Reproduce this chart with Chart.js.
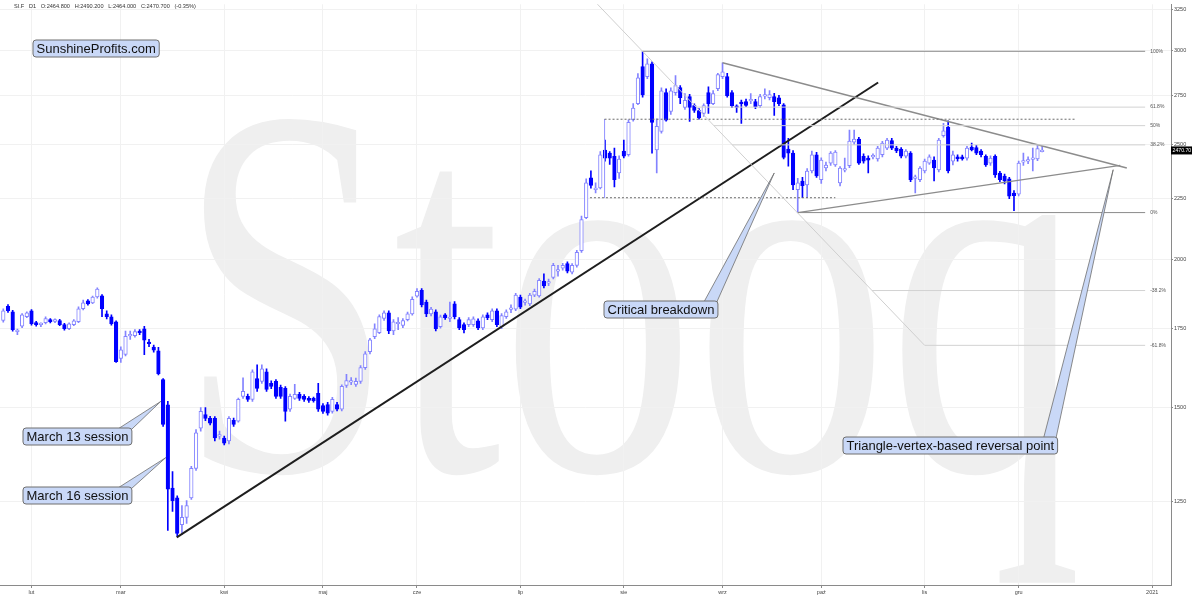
<!DOCTYPE html>
<html>
<head>
<meta charset="utf-8">
<script src="https://cdn.jsdelivr.net/npm/chart.js@4.4.0/dist/chart.umd.min.js"></script>
<style>
html, body { margin: 0; padding: 0; background: #fff; }
#wrap { width: 1200px; height: 600px; }
</style>
</head>
<body>
<div id="wrap"><canvas id="grafic" width="1200" height="600"></canvas></div>
<script>
// SI.F daily candles, 24 Jan 2020 .. 8 Dec 2020 (one entry per session)
const opens = [1776,1826,1806,1738,1757,1789,1810,1769,1762,1769,1779,1773,1776,1762,1748,1762,1772,1817,1845,1838,
  1859,1863,1799,1789,1772,1650,1663,1724,1725,1738,1748,1700,1687,1675,1584,1508,1283,1259,1195,1212,
  1259,1333,1441,1480,1469,1469,1419,1414,1406,1463,1461,1533,1533,1524,1587,1578,1608,1572,1578,1560,
  1557,1495,1527,1539,1533,1527,1527,1542,1506,1509,1489,1509,1495,1566,1576,1569,1578,1621,1672,1721,
  1735,1783,1803,1741,1765,1759,1779,1799,1862,1883,1841,1799,1806,1755,1796,1783,1835,1779,1762,1762,
  1762,1775,1751,1796,1779,1810,1755,1789,1815,1816,1859,1840,1834,1866,1863,1917,1910,1931,1955,1966,
  1984,1951,1977,2034,2169,2343,2290,2297,2473,2458,2443,2365,2468,2450,2622,2706,2907,2851,2923,2473,
  2564,2764,2665,2764,2791,2686,2743,2695,2670,2655,2764,2706,2785,2851,2851,2764,2690,2712,2716,2720,
  2716,2695,2745,2737,2743,2737,2700,2477,2458,2290,2328,2311,2374,2450,2334,2388,2411,2402,2320,2378,
  2399,2511,2526,2443,2434,2440,2430,2450,2482,2518,2482,2477,2443,2458,2340,2334,2374,2411,2425,2379,
  2542,2585,2420,2440,2440,2434,2487,2485,2468,2443,2411,2443,2365,2351,2338,2275,2270,2415,2420,2428,
  2430,2464.8];
const highs = [1817,1832,1812,1747,1800,1806,1814,1773,1768,1789,1783,1782,1780,1766,1768,1779,1824,1848,1850,1862,
  1892,1868,1810,1796,1775,1688,1740,1740,1745,1745,1756,1712,1693,1686,1587,1518,1325,1264,1240,1252,
  1338,1437,1500,1500,1475,1474,1433,1419,1474,1470,1528,1589,1540,1614,1630,1630,1617,1580,1584,1567,
  1562,1540,1569,1545,1538,1532,1531,1572,1512,1515,1530,1515,1568,1600,1590,1588,1627,1672,1716,1765,
  1796,1810,1810,1779,1786,1783,1805,1860,1890,1890,1848,1822,1813,1795,1800,1841,1843,1786,1768,1786,
  1789,1782,1796,1803,1817,1817,1800,1813,1831,1872,1866,1852,1872,1888,1927,1945,1925,1985,1977,1985,
  1990,1984,2035,2175,2338,2375,2320,2465,2521,2465,2482,2445,2521,2622,2706,2868,2994,2951,2935,2627,
  2790,2785,2790,2857,2802,2759,2755,2705,2680,2705,2796,2775,2870,2929,2870,2775,2700,2725,2730,2759,
  2728,2755,2785,2775,2760,2750,2706,2530,2470,2340,2345,2385,2468,2462,2435,2415,2465,2470,2395,2434,
  2570,2570,2535,2455,2445,2455,2490,2515,2530,2530,2490,2485,2475,2465,2355,2395,2430,2450,2440,2530,
  2604,2617,2468,2450,2448,2490,2506,2495,2475,2450,2445,2450,2372,2360,2345,2285,2420,2458,2440,2482,
  2496,2490.2];
const lows = [1770,1804,1740,1728,1752,1786,1760,1757,1755,1764,1768,1769,1758,1743,1745,1758,1769,1813,1830,1835,
  1855,1789,1782,1760,1637,1637,1658,1712,1720,1728,1662,1688,1670,1598,1446,1182,1226,1168,1172,1198,
  1255,1328,1433,1462,1450,1406,1411,1395,1398,1446,1458,1527,1518,1518,1548,1572,1548,1556,1527,1527,
  1461,1489,1524,1521,1518,1515,1516,1489,1483,1478,1484,1490,1490,1560,1568,1563,1572,1615,1665,1715,
  1731,1776,1731,1728,1745,1752,1775,1795,1858,1824,1789,1792,1741,1750,1780,1772,1782,1745,1734,1755,
  1756,1745,1745,1779,1772,1755,1748,1783,1803,1810,1817,1830,1828,1860,1858,1892,1900,1925,1936,1958,
  1948,1944,1970,2027,2164,2296,2275,2293,2420,2405,2302,2340,2435,2443,2615,2700,2740,2840,2458,2365,
  2555,2615,2650,2750,2706,2675,2614,2660,2625,2640,2655,2700,2775,2840,2740,2685,2660,2604,2690,2705,
  2680,2685,2730,2725,2645,2695,2430,2397,2290,2190,2254,2254,2365,2345,2318,2375,2400,2395,2306,2370,
  2390,2500,2405,2410,2365,2430,2420,2440,2475,2475,2460,2435,2435,2325,2275,2325,2365,2405,2329,2370,
  2535,2365,2402,2420,2425,2425,2468,2450,2440,2395,2400,2345,2325,2315,2250,2198,2262,2400,2408,2374,
  2422,2464.0];
const closes = [1810,1810,1745,1740,1796,1803,1765,1762,1763,1783,1772,1779,1762,1748,1765,1775,1817,1838,1834,1859,
  1888,1817,1789,1765,1640,1678,1722,1726,1738,1735,1710,1698,1677,1602,1452,1280,1252,1175,1212,1240,
  1333,1428,1489,1469,1455,1414,1421,1400,1469,1452,1524,1548,1524,1608,1557,1617,1554,1563,1533,1533,
  1489,1533,1539,1527,1524,1521,1520,1495,1489,1484,1524,1495,1563,1581,1578,1578,1621,1665,1711,1748,
  1790,1803,1741,1772,1767,1776,1799,1851,1880,1831,1799,1816,1748,1789,1786,1785,1789,1751,1745,1779,
  1782,1751,1789,1786,1810,1762,1793,1806,1817,1866,1823,1842,1866,1880,1920,1899,1913,1977,1957,1977,
  1955,1977,2027,2160,2320,2308,2295,2450,2434,2434,2334,2430,2443,2609,2682,2844,2752,2923,2609,2589,
  2774,2620,2774,2802,2737,2723,2686,2670,2632,2696,2706,2759,2862,2878,2748,2695,2686,2706,2696,2724,
  2690,2743,2750,2754,2716,2706,2438,2458,2311,2320,2307,2374,2450,2351,2425,2402,2458,2463,2388,2380,
  2516,2526,2411,2420,2425,2445,2482,2506,2521,2482,2468,2443,2468,2334,2345,2388,2420,2440,2388,2521,
  2566,2374,2450,2432,2430,2482,2473,2458,2450,2402,2434,2356,2334,2329,2261,2263,2411,2422,2426,2434,
  2479.4,2470.7];

const monthLabels = ['lut', 'mar', 'kwi', 'maj', 'cze', 'lip', 'sie', 'wrz', 'paź', 'lis', 'gru', '2021'];
const monthIndex = [6, 25, 47, 68, 88, 110, 132, 153, 174, 196, 216, 244.4];
const priceTicks = [1250, 1500, 1750, 2000, 2250, 2500, 2750, 3000, 3250];

// fibonacci tool: diagonal from the August top to the -61.8% level
const fibLevels = [1, 0.618, 0.5, 0.382, 0, -0.382, -0.618];
const fibLabels = ['100%', '61.8%', '50%', '38.2%', '0%', '-38.2%', '-61.8%'];
const fibTop = 2995;
const fibBottom = 2190;
const fibStartIdx = 136;
const fibEndIdx = 196;
const fibLineEnd = 242.9;

// drawn lines: [index, price] pairs
const supportLine = [[36.9, 1166], [186.1, 2819]];
const triangleTop = [[153, 2929], [239, 2388]];
const triangleBottom = [[169, 2190], [237.6, 2400]];
const dashHigh = [[127.9, 2625], [228, 2625]];
const dashLow = [[124.8, 2254], [177, 2254]];
const rangeMark = [[127.9, 2625], [127.9, 2254]];

const callouts = [
    {text: 'March 13 session', box: [23, 428], tip: [33.5, 1518]},
    {text: 'March 16 session', box: [23, 487], tip: [34.55, 1361]},
    {text: 'Critical breakdown', box: [604, 301], tip: [164, 2365]},
    {text: 'Triangle-vertex-based reversal point', box: [843, 437], tip: [236.1, 2380]}
];

const UP = '#8383ff';
const DOWN = '#0000ff';

function pts(arr) {
    return arr.map(p => ({x: p[0], y: p[1]}));
}

function fibPrice(lvl) {
    return fibBottom + lvl * (fibTop - fibBottom);
}

function fibStartX(price) {
    const a = Math.log(fibTop), b = Math.log(fibPrice(-0.618));
    return fibStartIdx + (fibEndIdx - fibStartIdx) * (a - Math.log(price)) / (a - b);
}

function lineSet(data, color, width, dash) {
    return {
        type: 'line', data: data, borderColor: color, borderWidth: width,
        borderDash: dash || [], pointRadius: 0, fill: false, tension: 0, order: 1
    };
}

const isUp = opens.map((o, i) => closes[i] >= o);

const datasets = [
    {
        type: 'bar', label: 'wicks', order: 3, grouped: false, barThickness: 1,
        data: opens.map((o, i) => ({x: i, y: [lows[i], highs[i]]})),
        backgroundColor: isUp.map(u => u ? UP : DOWN), borderWidth: 0
    },
    {
        type: 'bar', label: 'bodies', order: 2, grouped: false, barThickness: 3.6, minBarLength: 1.5,
        data: opens.map((o, i) => ({x: i, y: [o, closes[i]]})),
        backgroundColor: isUp.map(u => u ? '#ffffff' : DOWN),
        borderColor: isUp.map(u => u ? UP : DOWN),
        borderWidth: 1, borderSkipped: false
    }
];

// fib diagonal, extended up to the top edge
const diagTopPrice = Math.exp(Math.log(fibTop) + (122 - fibStartIdx) / (fibEndIdx - fibStartIdx) * (Math.log(fibPrice(-0.618)) - Math.log(fibTop)));
datasets.push(lineSet([{x: 122, y: diagTopPrice}, {x: fibEndIdx, y: fibPrice(-0.618)}], '#cfcfcf', 1));
fibLevels.forEach(lvl => {
    const p = fibPrice(lvl);
    const strong = (lvl === 1 || lvl === 0);
    datasets.push(lineSet([{x: fibStartX(p), y: p}, {x: fibLineEnd, y: p}], strong ? '#8a8a8a' : '#d2d2d2', 1));
});
datasets.push(lineSet(pts(dashHigh), '#6a6a6a', 1, [2, 2]));
datasets.push(lineSet(pts(dashLow), '#6a6a6a', 1, [2, 2]));
datasets.push(lineSet(pts(rangeMark), '#9a9aff', 1));
datasets.push(lineSet(pts(triangleTop), '#8c8c8c', 1.4));
datasets.push(lineSet(pts(triangleBottom), '#8c8c8c', 1.4));
datasets.push(lineSet(pts(supportLine), '#1e1e1e', 2));

const backdrop = {
    id: 'backdrop',
    beforeDraw(chart) {
        const ctx = chart.ctx;
        ctx.save();
        ctx.fillStyle = '#fff';
        ctx.fillRect(0, 0, chart.width, chart.height);
        ctx.fillStyle = '#efefef';
        ctx.font = '530px "Liberation Serif"';
        ctx.textBaseline = 'alphabetic';
        const w = ctx.measureText('Stooq').width;
        ctx.translate(178, 470);
        ctx.scale(904 / w, 1);
        ctx.fillText('Stooq', 0, 0);
        ctx.restore();
    }
};

function roundBox(ctx, x, y, w, h, r) {
    ctx.beginPath();
    ctx.moveTo(x + r, y);
    ctx.arcTo(x + w, y, x + w, y + h, r);
    ctx.arcTo(x + w, y + h, x, y + h, r);
    ctx.arcTo(x, y + h, x, y, r);
    ctx.arcTo(x, y, x + w, y, r);
    ctx.closePath();
}

function drawLabel(ctx, text, x, y) {
    ctx.font = '13px "Liberation Sans"';
    const w = ctx.measureText(text).width + 7;
    roundBox(ctx, x, y, w, 17, 3);
    ctx.fillStyle = '#c9d8f7';
    ctx.fill();
    ctx.strokeStyle = '#6f6f6f';
    ctx.lineWidth = 1;
    ctx.stroke();
    ctx.fillStyle = '#111';
    ctx.textBaseline = 'middle';
    ctx.fillText(text, x + 3.5, y + 9);
    return w;
}

const overlay = {
    id: 'overlay',
    afterDraw(chart) {
        const ctx = chart.ctx;
        const xs = chart.scales.x, ys = chart.scales.y;
        const n = opens.length - 1;
        ctx.save();

        // header
        const chg = (closes[n] / closes[n - 1] - 1) * 100;
        ctx.font = '5.6px "Liberation Sans"';
        ctx.fillStyle = '#333';
        ctx.textBaseline = 'middle';
        ctx.fillText('SI.F   D1   O:' + opens[n].toFixed(3) + '   H:' + highs[n].toFixed(3) + '   L:' + lows[n].toFixed(3) +
            '   C:' + closes[n].toFixed(3) + '   (' + chg.toFixed(2) + '%)', 14, 6);

        // fib labels
        ctx.font = '5px "Liberation Sans"';
        ctx.fillStyle = '#555';
        fibLevels.forEach((lvl, k) => {
            ctx.fillText(fibLabels[k], xs.getPixelForValue(fibLineEnd) + 5, ys.getPixelForValue(fibPrice(lvl)));
        });

        // last price tag
        const yc = ys.getPixelForValue(closes[n]);
        ctx.fillStyle = '#000';
        ctx.fillRect(chart.chartArea.right, yc - 4, 21, 8);
        ctx.fillStyle = '#fff';
        ctx.font = '5.2px "Liberation Sans"';
        ctx.fillText(closes[n].toFixed(2), chart.chartArea.right + 1.5, yc);

        // callouts
        callouts.forEach(c => {
            ctx.font = '13px "Liberation Sans"';
            const w = ctx.measureText(c.text).width + 7;
            const bx = c.box[0], by = c.box[1];
            const tx = xs.getPixelForValue(c.tip[0]), ty = ys.getPixelForValue(c.tip[1]);
            ctx.beginPath();
            ctx.moveTo(bx + w - 14, by + 1);
            ctx.lineTo(tx, ty);
            ctx.lineTo(bx + w - 2, by + 3);
            ctx.closePath();
            ctx.fillStyle = '#c9d8f7';
            ctx.fill();
            ctx.strokeStyle = '#6f6f6f';
            ctx.lineWidth = 0.8;
            ctx.stroke();
            drawLabel(ctx, c.text, bx, by);
        });
        drawLabel(ctx, 'SunshineProfits.com', 33, 40);
        ctx.restore();
    }
};

const ctx = document.getElementById('grafic');
const grafica = new Chart(ctx, {
    type: 'bar',
    data: {datasets: datasets},
    plugins: [backdrop, overlay],
    options: {
        responsive: false,
        animation: false,
        layout: {padding: 0},
        plugins: {legend: {display: false}, tooltip: {enabled: false}},
        scales: {
            x: {
                type: 'linear', min: -0.7, max: 248.4, offset: false,
                grid: {color: '#f1f1f1', offset: false, tickLength: 3, tickColor: '#8a8a8a'},
                border: {color: '#8a8a8a'},
                afterBuildTicks: s => { s.ticks = monthIndex.map(v => ({value: v})); },
                afterFit: s => { s.height = 15; },
                ticks: {
                    autoSkip: false, maxRotation: 0, padding: 1,
                    font: {size: 5.5, family: 'Liberation Sans'}, color: '#444',
                    callback: (v, i) => monthLabels[i]
                }
            },
            y: {
                type: 'logarithmic', position: 'right', min: 1063, max: 3281,
                grid: {color: '#f1f1f1', tickLength: 2, tickColor: '#8a8a8a'},
                border: {color: '#8a8a8a'},
                afterBuildTicks: s => { s.ticks = priceTicks.map(v => ({value: v})); },
                afterFit: s => { s.width = 29; },
                ticks: {
                    padding: 1, font: {size: 5.5, family: 'Liberation Sans'}, color: '#444',
                    callback: v => String(v)
                }
            }
        }
    }
});
</script>
</body>
</html>
